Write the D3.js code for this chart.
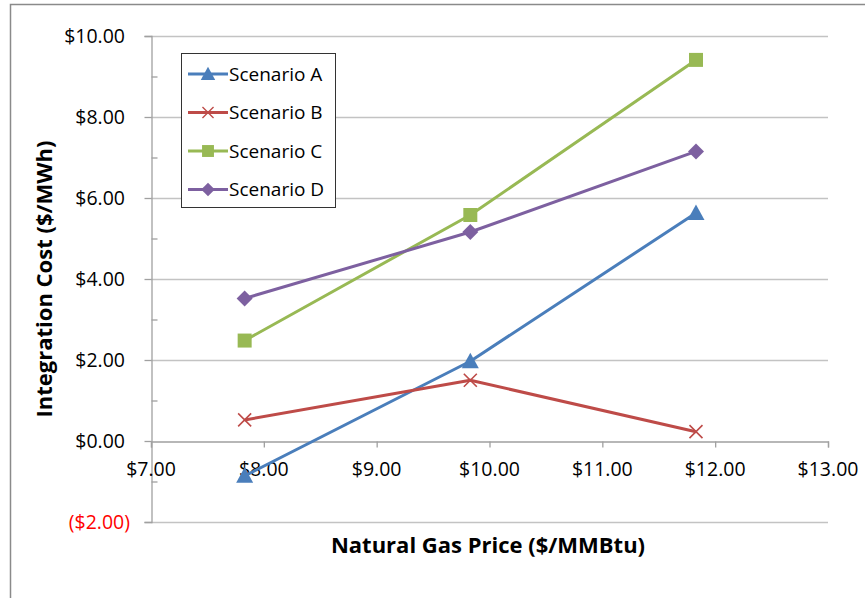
<!DOCTYPE html>
<html>
<head>
<meta charset="utf-8">
<script src="https://cdn.jsdelivr.net/npm/d3@7"></script>
<style>
  html, body { margin: 0; padding: 0; background: #fff; }
  svg { display: block; font-family: "Open Sans", "Noto Sans", sans-serif; }
</style>
</head>
<body>
<svg id="chart" width="865" height="598"></svg>
<script>
// Natural gas price points ($/MMBtu)
const gasPrices = [7.83, 9.83, 11.83];

// Integration cost per scenario ($/MWh)
const scenarioA = [-0.86, 1.97, 5.63];
const scenarioB = [0.52, 1.50, 0.23];
const scenarioC = [2.48, 5.58, 9.41];
const scenarioD = [3.52, 5.16, 7.15];

const seriesNames = ["Scenario A", "Scenario B", "Scenario C", "Scenario D"];
const seriesColors = ["#4A7EBB", "#BE4B48", "#98B954", "#7D60A0"];
const seriesMarkers = ["triangle", "cross", "square", "diamond"];

const xTicks = [7, 8, 9, 10, 11, 12, 13];
const yTicks = [-2, 0, 2, 4, 6, 8, 10];
const yMinorTicks = [-1, 1, 3, 5, 7, 9];

const xTitle = "Natural Gas Price ($/MMBtu)";
const yTitle = "Integration Cost ($/MWh)";

const series = seriesNames.map((name, i) => ({
  name,
  color: seriesColors[i],
  marker: seriesMarkers[i],
  values: [scenarioA, scenarioB, scenarioC, scenarioD][i]
}));

const svg = d3.select("#chart");

// Outer chart frame
svg.append("rect")
  .attr("x", 10.5).attr("y", 4.5)
  .attr("width", 900).attr("height", 700)
  .attr("fill", "none").attr("stroke", "#8a8a8a").attr("stroke-width", 1.5);

const x = d3.scaleLinear().domain([7, 13]).range([151, 828]);
const y = d3.scaleLinear().domain([-2, 10]).range([522, 36]);

const fmt = v => v < 0 ? `($${Math.abs(v).toFixed(2)})` : `$${v.toFixed(2)}`;

// Horizontal gridlines
svg.append("g")
  .selectAll("line")
  .data(yTicks.filter(v => v !== 0))
  .join("line")
  .attr("x1", x(7)).attr("x2", x(13))
  .attr("y1", d => Math.round(y(d)) + 0.5).attr("y2", d => Math.round(y(d)) + 0.5)
  .attr("stroke", "#c3c3c3").attr("stroke-width", 1.3);

// Y axis: major ticks outside, minor ticks inside
const yAxis = svg.append("g")
  .attr("transform", `translate(${x(7) + 0.5},0)`)
  .call(d3.axisLeft(y).tickValues(yTicks).tickSize(7).tickPadding(0).tickFormat(""));
yAxis.select(".domain").attr("stroke", "#a0a0a0").attr("stroke-width", 1.3);
yAxis.selectAll(".tick line").attr("stroke", "#a0a0a0").attr("stroke-width", 1.3);

const yMinor = svg.append("g")
  .attr("transform", `translate(${x(7) + 0.5},0)`)
  .call(d3.axisRight(y).tickValues(yMinorTicks).tickSize(6).tickFormat(""));
yMinor.select(".domain").remove();
yMinor.selectAll(".tick line").attr("stroke", "#a0a0a0").attr("stroke-width", 1.3);

// Y tick labels
svg.append("g")
  .selectAll("text")
  .data(yTicks)
  .join("text")
  .attr("x", d => d < 0 ? 130 : 125)
  .attr("y", d => y(d))
  .attr("dy", "0.36em")
  .attr("text-anchor", "end")
  .attr("font-size", 19.5)
  .attr("fill", d => d < 0 ? "#ff0000" : "#000")
  .text(fmt);

// X axis at zero
const xAxis = svg.append("g")
  .attr("transform", `translate(0,${Math.round(y(0)) + 0.5})`)
  .call(d3.axisBottom(x).tickValues(xTicks).tickSize(6).tickPadding(0).tickFormat(""));
xAxis.select(".domain").attr("stroke", "#a0a0a0").attr("stroke-width", 1.3);
xAxis.selectAll(".tick line").attr("stroke", "#a0a0a0").attr("stroke-width", 1.3);

// X tick labels
svg.append("g")
  .selectAll("text")
  .data(xTicks)
  .join("text")
  .attr("x", d => x(d))
  .attr("y", 469)
  .attr("dy", "0.36em")
  .attr("text-anchor", "middle")
  .attr("font-size", 19.5)
  .text(fmt);

// Marker shapes
function markerPath(kind) {
  switch (kind) {
    case "triangle": return "M0,-8.5L8.5,7L-8.5,7Z";
    case "square": return "M-7,-7H7V7H-7Z";
    case "diamond": return "M0,-8L8,0L0,8L-8,0Z";
    case "cross": return "M-6.5,-6.5L6.5,6.5M6.5,-6.5L-6.5,6.5";
  }
}

function drawMarker(g, kind, color) {
  if (kind === "cross") {
    g.append("path").attr("d", markerPath(kind))
      .attr("fill", "none").attr("stroke", color).attr("stroke-width", 1.6);
  } else {
    g.append("path").attr("d", markerPath(kind)).attr("fill", color);
  }
}

const line = d3.line().x((d, i) => x(gasPrices[i])).y(d => y(d));

series.forEach(s => {
  const g = svg.append("g");
  g.append("path")
    .datum(s.values)
    .attr("d", line)
    .attr("fill", "none")
    .attr("stroke", s.color)
    .attr("stroke-width", 3)
    .attr("stroke-linejoin", "round");
  s.values.forEach((v, i) => {
    const m = g.append("g").attr("transform", `translate(${x(gasPrices[i])},${y(v)})`);
    drawMarker(m, s.marker, s.color);
  });
});

// Legend
const legend = svg.append("g");
legend.append("rect")
  .attr("x", 181.5).attr("y", 53.5).attr("width", 154).attr("height", 154)
  .attr("fill", "#fff").attr("stroke", "#333").attr("stroke-width", 1);

series.forEach((s, i) => {
  const cy = 74 + i * 38.5;
  const item = legend.append("g");
  item.append("line")
    .attr("x1", 188).attr("x2", 228).attr("y1", cy).attr("y2", cy)
    .attr("stroke", s.color).attr("stroke-width", 3);
  const m = item.append("g").attr("transform", `translate(208,${cy}) scale(0.85)`);
  drawMarker(m, s.marker, s.color);
  item.append("text")
    .attr("x", 229).attr("y", cy).attr("dy", "0.36em")
    .attr("font-size", 19)
    .text(s.name);
});

// Axis titles
svg.append("text")
  .attr("x", 488)
  .attr("y", 545).attr("dy", "0.36em")
  .attr("text-anchor", "middle")
  .attr("font-size", 22).attr("font-weight", "bold")
  .text(xTitle);

svg.append("text")
  .attr("transform", `translate(44,${(y(-2) + y(10)) / 2}) rotate(-90)`)
  .attr("dy", "0.36em")
  .attr("text-anchor", "middle")
  .attr("font-size", 22).attr("font-weight", "bold")
  .text(yTitle);
</script>
</body>
</html>
